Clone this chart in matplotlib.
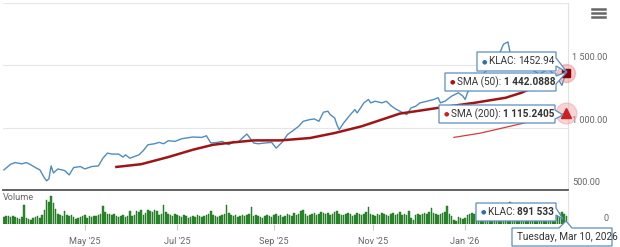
import numpy as np
import pandas as pd
import matplotlib
matplotlib.use('Agg')
import matplotlib.pyplot as plt
from matplotlib.patches import Polygon
from matplotlib.lines import Line2D

plt.rcParams['font.family'] = ['Roboto', 'DejaVu Sans']

# NYSE sessions: Mar 11 2025 .. Mar 10 2026 (ordinal axis, no gaps)
HOLIDAYS = ["2025-04-18", "2025-05-26", "2025-06-19", "2025-07-04", "2025-09-01",
            "2025-11-27", "2025-12-25", "2026-01-01", "2026-01-19", "2026-02-16"]
sessions = pd.bdate_range("2025-03-11", "2026-03-10", freq="C", holidays=HOLIDAYS)

# KLAC close
price_dates = [
    "2025-03-11", "2025-03-14", "2025-03-18", "2025-03-21", "2025-03-25", "2025-03-27",
    "2025-03-31", "2025-04-02", "2025-04-04", "2025-04-07", "2025-04-08", "2025-04-09",
    "2025-04-10", "2025-04-14", "2025-04-17", "2025-04-22", "2025-04-24", "2025-04-29",
    "2025-05-01", "2025-05-06", "2025-05-09", "2025-05-13", "2025-05-15", "2025-05-19",
    "2025-05-22", "2025-05-27", "2025-05-28", "2025-05-30", "2025-06-05", "2025-06-09",
    "2025-06-11", "2025-06-16", "2025-06-18", "2025-06-23", "2025-06-25", "2025-06-30",
    "2025-07-03", "2025-07-08", "2025-07-11", "2025-07-17", "2025-07-21", "2025-07-23",
    "2025-07-28", "2025-07-30", "2025-08-04", "2025-08-06", "2025-08-08", "2025-08-12",
    "2025-08-14", "2025-08-19", "2025-08-21", "2025-08-26", "2025-08-29", "2025-09-03",
    "2025-09-08", "2025-09-10", "2025-09-12", "2025-09-17", "2025-09-19", "2025-09-24",
    "2025-09-26", "2025-09-30", "2025-10-02", "2025-10-06", "2025-10-07", "2025-10-09",
    "2025-10-10", "2025-10-13", "2025-10-15", "2025-10-20", "2025-10-22", "2025-10-23",
    "2025-10-28", "2025-10-30", "2025-10-31", "2025-11-04", "2025-11-07", "2025-11-11",
    "2025-11-13", "2025-11-17", "2025-11-19", "2025-11-24", "2025-11-26", "2025-12-01",
    "2025-12-03", "2025-12-08", "2025-12-11", "2025-12-15", "2025-12-16", "2025-12-18",
    "2025-12-23", "2025-12-29", "2025-12-31", "2026-01-02", "2026-01-05", "2026-01-09",
    "2026-01-15", "2026-01-23", "2026-01-28", "2026-01-30", "2026-02-02", "2026-02-06",
    "2026-02-12", "2026-02-20", "2026-02-26", "2026-03-04", "2026-03-06", "2026-03-10",
]
price_values = [
    661, 707, 720, 710, 720, 702,
    680, 661, 597, 573, 590, 693,
    637, 669, 656, 621, 680, 688,
    669, 688, 693, 755, 796, 788,
    788, 764, 782, 755, 782, 817,
    863, 871, 882, 871, 895, 890,
    911, 917, 925, 922, 935, 877,
    882, 890, 863, 890, 882, 917,
    949, 877, 871, 877, 882, 836,
    890, 944, 970, 1011, 1051, 1065,
    1070, 1051, 1124, 1132, 1105, 1078,
    1024, 984, 1038, 1105, 1145, 1118,
    1199, 1226, 1199, 1212, 1199, 1212,
    1177, 1151, 1132, 1105, 1159, 1172,
    1199, 1212, 1226, 1240, 1199, 1212,
    1253, 1280, 1253, 1226, 1280, 1380,
    1450, 1540, 1669, 1688, 1600, 1520,
    1480, 1430, 1470, 1400, 1340, 1452.94,
]

sma50_dates = ["2025-05-21", "2025-06-06", "2025-06-25", "2025-07-11", "2025-07-24",
               "2025-08-06", "2025-08-19", "2025-09-05", "2025-09-24", "2025-10-09",
               "2025-10-27", "2025-11-07", "2025-11-19", "2025-12-03", "2025-12-15",
               "2026-01-08", "2026-01-29", "2026-02-09", "2026-02-24", "2026-03-10"]
sma50_values = [685, 707, 764, 823, 863,
                882, 898, 898, 917, 957,
                1011, 1065, 1113, 1137, 1159,
                1199, 1240, 1280, 1360, 1442.0888]

sma200_dates = ["2025-12-24", "2026-01-13", "2026-02-05", "2026-03-10"]
sma200_values = [922, 957, 1024, 1115.2405]

# daily volume (thousands of shares), one per session
volume_k = [
    780, 905, 870, 760, 880, 790, 650, 560, 770, 2110,
    680, 560, 450, 640, 790, 900, 670, 1010,
    1560, 2650, 2430, 3100, 2320, 1650, 1120,
    1000, 880, 1450, 1010, 870, 990, 770, 560, 660, 790, 900, 1000, 680, 880, 760, 900,
    880, 1010, 1090, 2000, 1330,
    1120, 1100, 990, 1110, 890, 770, 900, 1000, 780, 890, 1440,
    900, 1000, 1450, 1320, 1560, 1010, 1230, 1540, 1450, 1340, 1570, 1430, 1000, 1110,
    2110,
    1330, 1120, 990, 880, 1100, 1000, 890, 770, 1010, 880, 670, 780, 900, 790, 1000, 890, 770, 880, 1010,
    1110, 1440, 1000, 880, 780,
    890, 1000, 1120, 2110, 1220, 990,
    880, 1010, 780, 900, 990, 880, 1000, 1110, 1890,
    890, 1000, 880, 770, 670, 890, 990, 880, 780, 1010, 1100, 890, 1000, 770, 880, 1120,
    990, 890, 1220, 1000, 1110, 1440,
    1550, 1110,
    890, 1000, 1110, 1220, 990, 1100, 1330, 1220, 1120, 1230, 1000, 1110, 1330, 1440, 1110, 1000,
    1000, 1110, 1220, 1100, 890, 1000, 1220, 1110, 990, 1120, 1330, 1890, 1110,
    1000, 880, 1110, 1000, 1220, 1100, 990, 890, 1110, 1220, 1000, 1120, 1330, 990, 1110,
    1000, 1440, 670, 450, 1000, 1110,
    1000, 1110, 1220, 1100, 1330, 1780, 1220, 1110, 990, 1120, 1220,
    1330, 2000, 1110, 890,
    440, 330, 780, 670, 560, 670, 1000, 1110,
    1220, 1110, 1330, 1220, 1440, 1110, 1330, 1220, 1100, 1330, 1440, 1220, 1330, 1550, 1440, 1330, 1660,
    2440,
    1550, 1440, 1330, 1220, 1330, 1110, 1220, 1330, 1100, 1220, 1000, 1110, 1220, 1330, 1110, 1220,
    1100, 1000, 1220, 1110, 1330,
    1220, 1330, 1110, 891.533,
]

month_ticks = ["2025-05-01", "2025-07-01", "2025-09-01", "2025-11-01", "2026-01-01"]
month_labels = ["May '25", "Jul '25", "Sep '25", "Nov '25", "Jan '26"]
price_ticks = [500, 1000, 1500, 2000]

W, H = 620, 247


def pos(dates):
    return sessions.searchsorted(pd.to_datetime(dates))


def px(x, y):
    return (x / W, 1 - y / H)


fig = plt.figure(figsize=(W / 100, H / 100), dpi=100)
ax = fig.add_axes([3 / W, 1 - 190 / H, 565 / W, 187 / H])
vax = fig.add_axes([3 / W, 1 - 224 / H, 565 / W, 32 / H], sharex=ax)

# price panel
ax.plot(pos(price_dates), price_values, color="#4f8cc4", lw=1.0, zorder=3)
ax.plot(pos(sma50_dates), sma50_values, color="#9e1515", lw=1.8, zorder=4)
ax.plot(pos(sma200_dates), sma200_values, color="#d83a3a", lw=0.9, zorder=4)

ax.set_xlim(-0.4, len(sessions) - 0.3)
ax.set_ylim(500, 2000)
ax.set_yticks(price_ticks)
ax.yaxis.grid(True, color="#e6e6e6", lw=0.8)
ax.set_axisbelow(True)
ax.tick_params(left=False, labelleft=False, bottom=False, labelbottom=False)
for s in ["left", "top"]:
    ax.spines[s].set_visible(False)
ax.spines["right"].set_color("#e2e2e2")
ax.spines["right"].set_linewidth(0.8)
ax.spines["bottom"].set_color("#555555")
ax.spines["bottom"].set_linewidth(1.3)
for t in price_ticks[:-1]:
    ax.annotate(f"{t:,.2f}".replace(",", " "), (1, t), xycoords=("axes fraction", "data"),
                xytext=(4, 3), textcoords="offset pixels", ha="left", va="bottom",
                fontsize=6.6, color="#666666")

# end-point markers with hover halo
last = len(sessions) - 1
ax.plot(last, sma50_values[-1], "o", ms=13, color="#e88a8a", alpha=0.45, clip_on=False, zorder=6)
ax.plot(last, sma50_values[-1], "s", ms=6, color="#8b0000", clip_on=False, zorder=7)
ax.plot(last, sma200_values[-1], "o", ms=15, color="#f0a0a0", alpha=0.45, clip_on=False, zorder=6)
ax.plot(last, sma200_values[-1], "^", ms=6.5, color="#cc1f1f", clip_on=False, zorder=7)

# volume panel
vol = np.array(volume_k) * 1000
vax.bar(np.arange(len(vol)), vol, width=0.72, color="#2c8c2c", edgecolor="#1e6e1e", lw=0.3)
vax.set_ylim(0, 3.6e6)
vax.set_yticks([])
for s in ["left", "top", "bottom"]:
    vax.spines[s].set_visible(False)
vax.spines["right"].set_color("#e2e2e2")
vax.spines["right"].set_linewidth(0.8)
vax.set_xticks(pos(month_ticks))
vax.set_xticklabels(month_labels)
vax.tick_params(axis="x", length=4, color="#cccccc", labelsize=6.6, labelcolor="#666666", pad=5)
vax.text(0.0, 0.97, "Volume", transform=vax.transAxes, fontsize=6.6, color="#666666",
         ha="left", va="top")
fig.text(*px(603, 218), "0", fontsize=6.6, color="#666666", ha="left", va="center")

# hamburger menu
for yy in (9, 13, 17):
    fig.add_artist(Line2D([592 / W, 605 / W], [1 - yy / H] * 2, color="#666666", lw=1.8))

renderer = fig.canvas.get_renderer()


def tooltip(l, t, r, b, pointer, dot, label, value, value_bold=True, edge="#5b8ec0"):
    if pointer[0] == "right":
        _, c1, tip, c2 = pointer
        verts = [(l, t), (r, t), (r, c1), tip, (r, c2), (r, b), (l, b)]
    else:
        _, a1, tip, a2 = pointer
        verts = [(l, t), (a1, t), tip, (a2, t), (r, t), (r, b), (l, b)]
    fig.add_artist(Polygon([px(*v) for v in verts], closed=True, facecolor="white",
                           edgecolor=edge, lw=0.9, zorder=8, transform=fig.transFigure))
    cy = (t + b) / 2
    x = l + 5
    if dot:
        fig.text(*px(x, cy), "●", color=dot, fontsize=4.5, ha="left", va="center", zorder=9)
        x += 7
    txt = fig.text(*px(x, cy), label, color="#333333", fontsize=7.2, ha="left", va="center", zorder=9)
    if value:
        x += txt.get_window_extent(renderer).width
        fig.text(*px(x, cy), value, color="#333333", fontsize=7.2, ha="left", va="center",
                 fontweight="bold" if value_bold else "normal", zorder=9)


tooltip(477, 52, 556, 71, ("right", 58, (567, 72), 66), "#2f6fb0",
        "KLAC: ", f"{price_values[-1]}", value_bold=False)
tooltip(445, 73, 556, 91, ("right", 76, (567, 72), 84), "#b01010",
        "SMA (50): ", "1 442.0888")
tooltip(439, 105, 555, 123, ("right", 110, (563, 115), 119), "#d02020",
        "SMA (200): ", "1 115.2405")
tooltip(476, 203, 556, 221, ("right", 208, (563, 219), 215), "#2f6fb0",
        "KLAC: ", "891 533")
tooltip(512, 228, 612, 246, ("top", 559, (566, 221), 572), None,
        "Tuesday, Mar 10, 2026", None)

fig.savefig("out.png", dpi=100)
